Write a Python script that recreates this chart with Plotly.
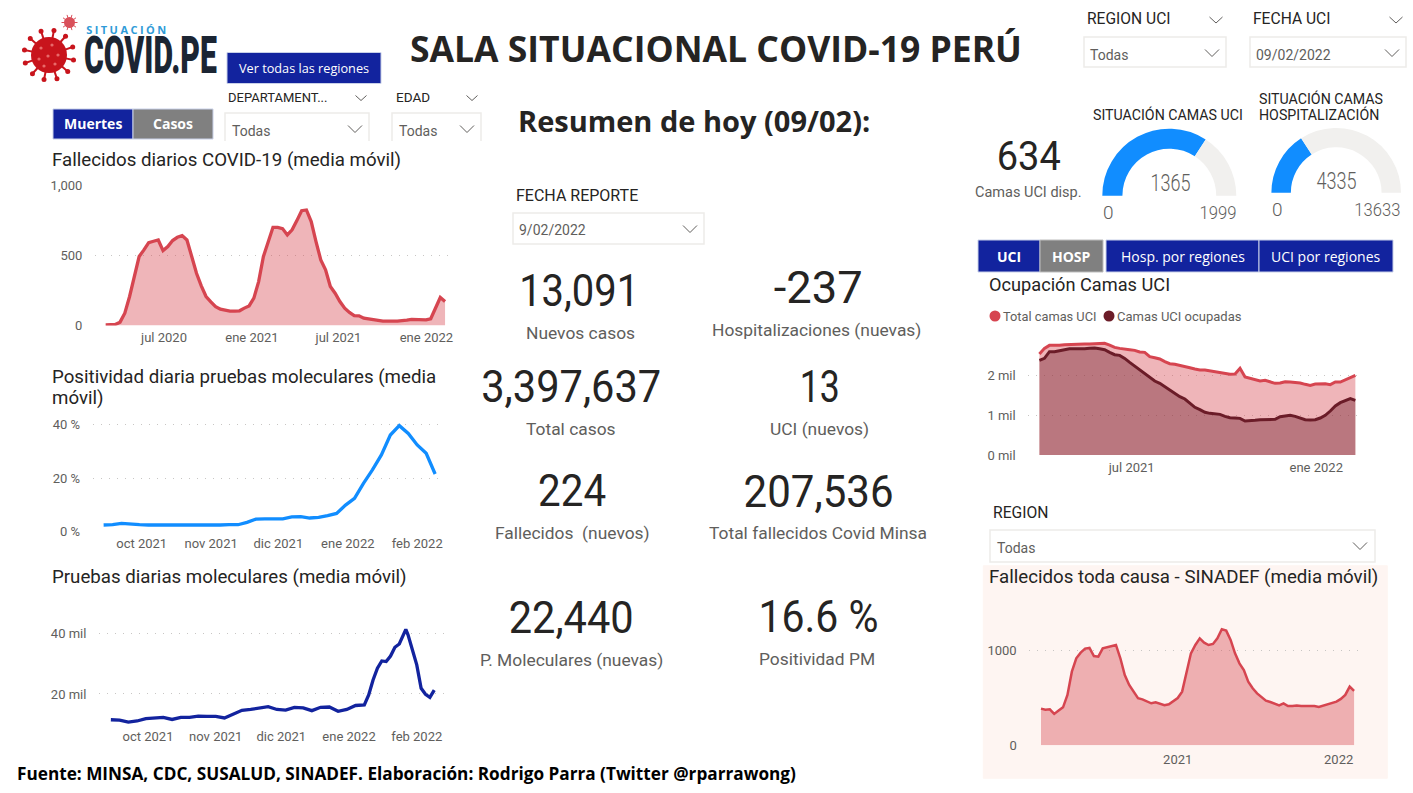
import json
import math
import pandas as pd
import plotly.graph_objects as go

W, H = 1413, 793
DIN = "Roboto"
SEGOE = "Open Sans"
BLUE = "#12239E"
GRAY = "#808080"
RED = "#D64550"
TXT = "#252423"
SUB = "#605E5C"
GRID = "#C8C6C4"

# fallecidos diarios, cada 10 dias
fall_dates = pd.date_range("2020-03-01", periods=72, freq="10D")
fall_vals = [5, 5, 7, 24, 88, 207, 361, 492, 539, 591, 601, 610, 534, 563, 606, 629, 641, 610,
             492, 373, 283, 207, 169, 135, 116, 109, 102, 102, 105, 124, 140, 195, 313, 492,
             599, 700, 700, 691, 646, 682, 748, 819, 824, 741, 599, 468, 397, 278, 230, 171,
             124, 93, 71, 69, 52, 45, 40, 36, 31, 33, 31, 31, 33, 38, 43, 43, 40, 40, 48, 124,
             200, 171]

# moleculares, cada 4 dias
mol_dates = pd.date_range("2021-09-14", periods=38, freq="4D")
posit_vals = [2.5, 2.6, 3.1, 3.0, 2.6, 2.5, 2.5, 2.4, 2.4, 2.2, 2.2, 2.4, 2.5, 2.5, 2.6, 2.6, 3.5,
              4.7, 4.8, 4.8, 4.8, 5.5, 5.6, 5.1, 5.3, 6.0, 6.8, 9.9, 12.4, 18.0, 23.0, 28.6, 36.0,
              39.5, 36.6, 32.3, 29.2, 21.5]

# pruebas: hasta el 4 de enero cada 4 dias, luego mas fino por el pico
prueb_dates = list(mol_dates[:29]) + ["2022-01-08", "2022-01-10", "2022-01-12", "2022-01-14", "2022-01-16",
                                      "2022-01-18", "2022-01-20", "2022-01-22", "2022-01-24", "2022-01-26",
                                      "2022-01-27", "2022-01-28", "2022-01-30", "2022-02-01", "2022-02-03",
                                      "2022-02-05", "2022-02-07", "2022-02-09"]
prueb_vals = [11.5, 11.4, 10.7, 11.1, 11.9, 12.2, 12.3, 11.6, 12.3, 12.3, 12.7, 12.6, 12.6, 12.1,
              13.4, 14.6, 14.9, 15.3, 15.8, 14.9, 14.7, 15.6, 15.4, 14.5, 15.6, 15.7, 14.3, 14.9, 16.2,
              16.4, 19.7, 24.6, 28.5, 30.9, 30.7, 32.5, 35.4, 36.5, 39.5, 41.3, 39.5, 34.5, 29.6, 21.9,
              19.9, 18.9, 21.3]

# camas UCI, cada 5 dias
uci_dates = pd.date_range("2021-03-31", periods=64, freq="5D")
uci_total = [2546, 2689, 2765, 2756, 2765, 2782, 2790, 2798, 2807, 2798, 2798, 2807, 2824, 2815,
             2773, 2714, 2689, 2664, 2655, 2639, 2597, 2588, 2479, 2454, 2420, 2353, 2303, 2286,
             2261, 2244, 2202, 2168, 2143, 2143, 2118, 2101, 2084, 2059, 2034, 2042, 2185, 1966,
             1933, 1908, 1866, 1882, 1840, 1807, 1815, 1849, 1840, 1832, 1815, 1782, 1756, 1790,
             1790, 1798, 1773, 1840, 1840, 1899, 1966, 2008]
uci_ocup = [2387, 2437, 2605, 2605, 2630, 2664, 2681, 2681, 2672, 2681, 2689, 2697, 2681, 2655,
            2588, 2529, 2513, 2437, 2336, 2244, 2160, 2059, 1958, 1866, 1807, 1723, 1639, 1555,
            1471, 1412, 1303, 1202, 1143, 1076, 1050, 1042, 1025, 975, 941, 933, 924, 857, 857,
            874, 891, 899, 891, 899, 966, 992, 1000, 975, 941, 891, 882, 891, 933, 1000, 1109,
            1235, 1319, 1378, 1420, 1378]

# sinadef, cada 10 dias
sin_dates = pd.date_range("2020-02-26", periods=72, freq="10D")
sin_vals = [386, 375, 379, 330, 365, 400, 530, 775, 916, 975, 1018, 1025, 940, 933, 1021, 1035,
            1046, 1056, 916, 740, 635, 565, 495, 484, 467, 442, 453, 435, 421, 432, 470, 498, 565,
            758, 968, 1056, 1126, 1081, 1056, 1067, 1126, 1221, 1207, 1109, 968, 863, 793, 670,
            600, 547, 512, 470, 456, 435, 421, 442, 414, 414, 418, 414, 414, 407, 414, 404, 418,
            432, 439, 460, 488, 530, 618, 572]

gauge_uci = [1365, 1999]
gauge_hosp = [4335, 13633]

# anchos de texto medidos, para acercar la fuente DIN del original
fit_glyphs = {"13,091": 120, "-237": 89, "3,397,637": 180, "13": 40, "224": 68,
              "207,536": 150, "22,440": 125, "16.6 %": 120, "634": 64, "1365": 40, "4335": 40,
              "1999": 37, "13633": 46}
fit_spacing = {"SITUACIÓN": 80}
fit_scale = {"COVID.PE": 133}


def X(px):
    return px / W


def Y(py):
    return 1 - py / H


def date_at(px, anchor, anchor_px, px_per_day):
    return pd.Timestamp(anchor) + pd.Timedelta(days=(px - anchor_px) / px_per_day)


fig = go.Figure()
shapes = []
annots = []


def text(x, y, s, size, color=TXT, family=DIN, anchor="left", bold=False, weight=None):
    if anchor == "left":
        x -= 1
    annots.append(dict(x=X(x), y=Y(y), xref="paper", yref="paper", text=s, showarrow=False,
                       xanchor=anchor, yanchor="middle", borderpad=0,
                       font=dict(family=family, size=size, color=color, weight=weight or (700 if bold else 400))))


def rect(x0, y0, x1, y1, fill, line=None, lw=1, layer="below"):
    shapes.append(dict(type="rect", xref="paper", yref="paper", x0=X(x0), x1=X(x1), y0=Y(y0), y1=Y(y1),
                       fillcolor=fill, line=dict(color=line or fill, width=lw), layer=layer))


def chevron(x, y, w=7, h=3.5):
    path = f"M {X(x - w)} {Y(y - h)} L {X(x)} {Y(y + h)} L {X(x + w)} {Y(y - h)}"
    shapes.append(dict(type="path", xref="paper", yref="paper", path=path, line=dict(color=SUB, width=1), layer="above"))


def circle(cx, cy, r, color, layer="above"):
    shapes.append(dict(type="circle", xref="paper", yref="paper", x0=X(cx - r), x1=X(cx + r), y0=Y(cy - r), y1=Y(cy + r),
                       fillcolor=color, line=dict(width=0), layer=layer))


def button(x0, y0, x1, y1, label, fill, bold=True, size=14, line=None):
    rect(x0, y0, x1, y1, fill, line=line or "#C8D0E8", lw=1, layer="above")
    text((x0 + x1) / 2, (y0 + y1) / 2, label, size, "#FFFFFF", SEGOE, "center", bold)


def slicer(x0, y0, x1, y1, label, tx, ty, cx, cy):
    rect(x0, y0, x1, y1, "#FFFFFF", "#EDEBE9", 1.5)
    text(tx, ty, label, 14, SUB)
    chevron(cx, cy)


def axes(n, left, right, top, bottom, xr, yr, xvals, xtext, yvals, ytext, xlen, ylen):
    suffix = "" if n == 1 else str(n)
    fig.layout["xaxis" + suffix] = dict(
        domain=[X(left), X(right)], range=xr, anchor="y" + suffix, type="date", showgrid=False, zeroline=False,
        showline=False, tickvals=xvals, ticktext=xtext, ticks="outside", ticklen=xlen, tickcolor="rgba(0,0,0,0)",
        tickfont=dict(family=DIN, size=13, color=SUB))
    fig.layout["yaxis" + suffix] = dict(
        domain=[Y(bottom), Y(top)], range=yr, anchor="x" + suffix, showgrid=True, gridcolor=GRID, griddash="1px,7px",
        gridwidth=1, zeroline=False, showline=False, tickvals=yvals, ticktext=ytext, ticks="outside", ticklen=ylen,
        tickcolor="rgba(0,0,0,0)", tickfont=dict(family=DIN, size=13, color=SUB))


def area(dates, vals, n, color, fill, width):
    suffix = "" if n == 1 else str(n)
    fig.add_trace(go.Scatter(x=dates, y=vals, mode="lines", xaxis="x" + suffix, yaxis="y" + suffix, cliponaxis=False,
                             line=dict(color=color, width=width), fill="tozeroy" if fill else None,
                             fillcolor=fill, showlegend=False, hoverinfo="skip"))


# grafico 1 fallecidos
axes(1, 95, 454, 185.3, 325.5,
     [date_at(95, "2020-07-01", 164, 0.478), date_at(454, "2020-07-01", 164, 0.478)], [0, 1000],
     ["2020-07-01", "2021-01-01", "2021-07-01", "2022-01-01"], ["jul 2020", "ene 2021", "jul 2021", "ene 2022"],
     [0, 500, 1000], ["0", "500", "1,000"], 0, 9)
area(fall_dates, fall_vals, 1, RED, "rgba(214,69,80,0.4)", 3.3)

# grafico 2 positividad
axes(2, 92.7, 445, 420, 531.7,
     [date_at(92.7, "2021-10-01", 141.7, 2.24), date_at(445, "2021-10-01", 141.7, 2.24)], [0, 41.6],
     ["2021-10-01", "2021-11-01", "2021-12-01", "2022-01-01", "2022-02-01"],
     ["oct 2021", "nov 2021", "dic 2021", "ene 2022", "feb 2022"],
     [0, 20, 40], ["0 %", "20 %", "40 %"], 0, 9)
area(mol_dates, posit_vals, 2, "#118DFF", None, 3.3)

# grafico 3 pruebas
axes(3, 99, 445, 620, 724,
     [date_at(99, "2021-10-01", 148, 2.185), date_at(445, "2021-10-01", 148, 2.185)], [10.1, 44.4],
     ["2021-10-01", "2021-11-01", "2021-12-01", "2022-01-01", "2022-02-01"],
     ["oct 2021", "nov 2021", "dic 2021", "ene 2022", "feb 2022"],
     [20, 40], ["20 mil", "40 mil"], 0, 9)
area(prueb_dates, prueb_vals, 3, "#12239E", None, 3.3)

# grafico 4 camas UCI
axes(4, 1028.3, 1360.7, 340, 455,
     [date_at(1028.3, "2021-07-01", 1131.7, 1.003), date_at(1360.7, "2021-07-01", 1131.7, 1.003)], [0, 2900],
     ["2021-07-01", "2022-01-01"], ["jul 2021", "ene 2022"],
     [0, 1000, 2000], ["0 mil", "1 mil", "2 mil"], 0, 9)
area(uci_dates, uci_total, 4, RED, "rgba(214,69,80,0.4)", 3)
area(uci_dates, uci_ocup, 4, "#6B1C28", "rgba(107,28,40,0.4)", 3)

# grafico 5 sinadef
axes(5, 1029.3, 1361.7, 621.8, 745.3,
     [date_at(1029.3, "2021-01-01", 1177.7, 0.441), date_at(1361.7, "2021-01-01", 1177.7, 0.441)], [0, 1300],
     ["2021-01-01", "2022-01-01"], ["2021", "2022"],
     [0, 1000], ["0", "1000"], 2, 9)
area(sin_dates, sin_vals, 5, RED, "rgba(214,69,80,0.4)", 2.5)


# medidores, media dona oculta
def gauge(vals, cx, cy, r):
    used, total = vals
    fig.add_trace(go.Pie(values=[used, total - used, total], sort=False, direction="clockwise", rotation=270,
                         hole=0.7, textinfo="none", hoverinfo="skip", showlegend=False,
                         marker=dict(colors=["#118DFF", "#F1F0EE", "rgba(0,0,0,0)"], line=dict(width=0)),
                         domain=dict(x=[X(cx - r), X(cx + r)], y=[Y(cy + r), Y(cy - r)])))


gauge(gauge_uci, 1169.3, 195.7, 67)
gauge(gauge_hosp, 1336.2, 192.7, 64.8)

# logo
for i in range(12):
    a = i * math.pi / 6 + 0.2
    x0, y0 = 49 + 17 * math.cos(a), 55 + 17 * math.sin(a)
    x1, y1 = 49 + 25 * math.cos(a), 55 + 25 * math.sin(a)
    shapes.append(dict(type="line", xref="paper", yref="paper", x0=X(x0), y0=Y(y0), x1=X(x1), y1=Y(y1),
                       line=dict(color="#C8141C", width=2), layer="above"))
    circle(x1, y1, 2.5, "#C8141C")
circle(49, 55, 18, "#C8141C")
for dx, dy in [(-8, -7), (3, -10), (9, 0), (-10, 4), (-1, 1), (6, 9), (-5, 11)]:
    circle(49 + dx, 55 + dy, 1.6, "#E86A6A")
for i in range(10):
    a = i * math.pi / 5
    shapes.append(dict(type="line", xref="paper", yref="paper", x0=X(69.5), y0=Y(22.5), x1=X(69.5 + 8 * math.cos(a)),
                       y1=Y(22.5 + 8 * math.sin(a)), line=dict(color="#D9505A", width=1), layer="above"))
circle(69.5, 22.5, 5.5, "#D9505A")
text(126, 30, "SITUACIÓN", 11, "#2F9BD8", "Open Sans", "center", True)
text(150.5, 56, "COVID.PE", 52, "#1B2533", DIN, "center", weight=900)

# cabecera y filtros
text(715.5, 48, "SALA SITUACIONAL COVID-19 PERÚ", 35.5, TXT, SEGOE, "center", True)
button(227, 52.5, 381, 83.5, "Ver todas las regiones", BLUE, False, 12.7)
text(228, 97, "DEPARTAMENT...", 13)
chevron(361, 98, 5.5, 2.5)
text(396, 97, "EDAD", 13.5)
chevron(472, 98, 5.5, 2.5)
for x0, x1, tx, cx in [(225, 369, 232, 355), (392, 481, 399, 467)]:
    path = f"M {X(x0)} {Y(141)} L {X(x0)} {Y(113)} L {X(x1)} {Y(113)} L {X(x1)} {Y(141)}"
    shapes.append(dict(type="path", xref="paper", yref="paper", path=path, line=dict(color="#EDEBE9", width=1.5), layer="below"))
    text(tx, 131, "Todas", 14, SUB)
    chevron(cx, 129)
button(53, 109, 133, 139, "Muertes", BLUE)
button(133, 109, 213, 139, "Casos", GRAY)

text(52, 160, "Fallecidos diarios COVID-19 (media móvil)", 18.7)
text(52, 377, "Positividad diaria pruebas moleculares (media", 18.7)
text(52, 398, "móvil)", 18.7)
text(52, 577, "Pruebas diarias moleculares (media móvil)", 18.7)
text(17, 773, "Fuente: MINSA, CDC, SUSALUD, SINADEF. Elaboración: Rodrigo Parra (Twitter @rparrawong)", 17.2, "#000000", SEGOE, bold=True)

# resumen central
text(518, 120.5, "Resumen de hoy (09/02):", 29, TXT, SEGOE, bold=True)
text(516, 196, "FECHA REPORTE", 16)
slicer(513, 213, 704, 244, "9/02/2022", 519, 230, 690, 229)

kpis = [(578.5, 291, "13,091", 580, 333, "Nuevos casos"), (818.5, 288, "-237", 817, 330, "Hospitalizaciones (nuevas)"),
        (571, 387, "3,397,637", 571, 429, "Total casos"), (820, 387, "13", 820, 429, "UCI (nuevos)"),
        (571.5, 491, "224", 572, 533, "Fallecidos  (nuevos)"), (818.5, 492, "207,536", 818, 533, "Total fallecidos Covid Minsa"),
        (570.5, 618, "22,440", 571, 660, "P. Moleculares (nuevas)"), (818.5, 617, "16.6 %", 817, 659, "Positividad PM")]
for nx, ny, num, lx, ly, lab in kpis:
    text(nx, ny, num, 44, TXT, DIN, "center")
    text(lx, ly, lab, 17.4, SUB, DIN, "center")

# panel derecho
text(1087, 19, "REGION UCI", 15.6)
chevron(1216, 20, 6.5, 3)
text(1253, 19, "FECHA UCI", 15.6)
chevron(1396, 20, 6.5, 3)
slicer(1084, 37, 1226, 67, "Todas", 1090, 55, 1212, 53)
slicer(1250, 37, 1406, 67, "09/02/2022", 1256, 55, 1392, 53)

text(1028, 156, "634", 40, TXT, DIN, "center")
text(1028, 193, "Camas UCI disp.", 14.5, SUB, DIN, "center")
text(1093, 115, "SITUACIÓN CAMAS UCI", 14.2)
text(1259, 99, "SITUACIÓN CAMAS", 14.2)
text(1259, 115, "HOSPITALIZACIÓN", 14.2)
text(1170, 183, str(gauge_uci[0]), 23, SUB, DIN, "center", weight=300)
text(1103, 212, "0", 19, SUB, weight=300)
text(1218, 212, str(gauge_uci[1]), 19, SUB, DIN, "center", weight=300)
text(1336.5, 181, str(gauge_hosp[0]), 23, SUB, DIN, "center", weight=300)
text(1272, 210, "0", 19, SUB, weight=300)
text(1377.5, 210, str(gauge_hosp[1]), 19, SUB, DIN, "center", weight=300)

button(978, 240, 1040, 272, "UCI", BLUE)
button(1040, 240, 1103, 272, "HOSP", GRAY, line="#BDBDBD")
button(1106, 240, 1259, 272, "Hosp. por regiones", BLUE, False, 14)
button(1259, 240, 1393, 272, "UCI por regiones", BLUE, False, 14)

text(989, 285, "Ocupación Camas UCI", 18.2)
circle(995, 316, 5.5, RED)
text(1003, 316, "Total camas UCI", 12.8, SUB)
circle(1109, 316, 5.5, "#6B1C28")
text(1117, 316, "Camas UCI ocupadas", 13, SUB)

text(993, 512, "REGION", 15.7)
slicer(990, 530, 1375, 562, "Todas", 997, 548, 1360, 546)
rect(983.3, 565.7, 1387.3, 778.3, "#FEF5F2")
text(989, 577, "Fallecidos toda causa - SINADEF (media móvil)", 18.7)

fig.update_layout(width=W, height=H, margin=dict(l=0, r=0, t=0, b=0, autoexpand=False), paper_bgcolor="#FFFFFF",
                  plot_bgcolor="rgba(0,0,0,0)", showlegend=False, shapes=shapes, annotations=annots)

fix_page = """
document.body.style.margin = '0';
var glyphs = %s, spacing = %s, scale = %s;
document.querySelectorAll('.annotation-text').forEach(function (t) {
    var s = t.textContent;
    if (glyphs[s]) { t.setAttribute('textLength', glyphs[s]); t.setAttribute('lengthAdjust', 'spacingAndGlyphs'); }
    if (spacing[s]) { t.setAttribute('textLength', spacing[s]); t.setAttribute('lengthAdjust', 'spacing'); }
    if (scale[s]) {
        var b = t.getBBox(), c = b.x + b.width / 2;
        t.setAttribute('transform', 'translate(' + c + ' 0) scale(' + scale[s] / b.width + ' 1) translate(' + (-c) + ' 0)');
    }
});
""" % (json.dumps(fit_glyphs), json.dumps(fit_spacing), json.dumps(fit_scale))
fig.write_html("out.html", post_script=fix_page, config={"displayModeBar": False})
